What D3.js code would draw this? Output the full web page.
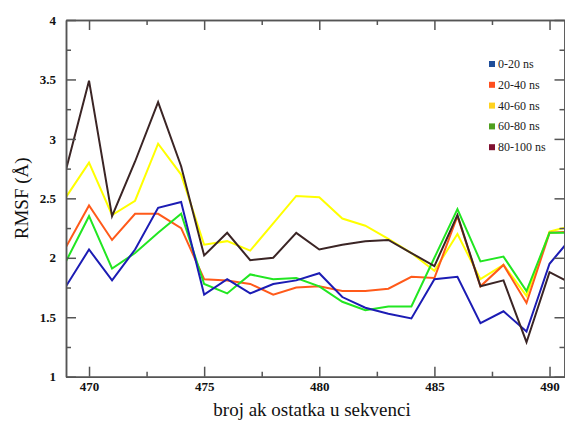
<!DOCTYPE html>
<html>
<head>
<meta charset="utf-8">
<script src="https://cdn.jsdelivr.net/npm/d3@7"></script>
<style>
    body { margin: 0; background: #fff; }
    svg { display: block; }
    .axis path, .axis line { stroke: #555; stroke-width: 1.5; }
</style>
</head>
<body>
<svg id="chart" width="565" height="421"></svg>
<script>
// 残基编号
const residues = d3.range(469, 492);

// 每个时间段的 RMSF 值
const rmsf0_20 = [1.76, 2.07, 1.81, 2.07, 2.42, 2.47, 1.69, 1.82, 1.70, 1.78, 1.81, 1.87, 1.67, 1.58, 1.53, 1.49, 1.82, 1.84, 1.45, 1.55, 1.38, 1.95, 2.18];
const rmsf20_40 = [2.09, 2.44, 2.15, 2.37, 2.37, 2.25, 1.82, 1.81, 1.78, 1.69, 1.75, 1.76, 1.72, 1.72, 1.74, 1.84, 1.83, 2.35, 1.76, 1.94, 1.62, 2.21, 2.22];
const rmsf40_60 = [2.51, 2.80, 2.36, 2.48, 2.96, 2.70, 2.11, 2.14, 2.06, 2.29, 2.52, 2.51, 2.33, 2.27, 2.16, 2.04, 1.89, 2.20, 1.82, 1.94, 1.68, 2.22, 2.27];
const rmsf60_80 = [1.97, 2.35, 1.91, 2.04, 2.21, 2.37, 1.78, 1.70, 1.86, 1.82, 1.83, 1.76, 1.63, 1.56, 1.59, 1.59, 2.00, 2.41, 1.97, 2.01, 1.72, 2.21, 2.21];
const rmsf80_100 = [2.74, 3.49, 2.35, 2.81, 3.31, 2.77, 2.02, 2.21, 1.98, 2.00, 2.21, 2.07, 2.11, 2.14, 2.15, 2.04, 1.93, 2.36, 1.76, 1.81, 1.29, 1.88, 1.78];

// 图例与线条
const seriesNames = ["0-20 ns", "20-40 ns", "40-60 ns", "60-80 ns", "80-100 ns"];
const legendColors = ["#1f4e9a", "#ff4f1f", "#ffd21f", "#4f9f1f", "#7f1030"];
const lineColors = ["#1c1cb4", "#ff5a1a", "#ffff00", "#22e622", "#3b2525"];
const seriesValues = [rmsf0_20, rmsf20_40, rmsf40_60, rmsf60_80, rmsf80_100];

const xTicks = [470, 475, 480, 485, 490];
const yTicks = [1, 1.5, 2, 2.5, 3, 3.5, 4];

const serif = "'Liberation Serif', 'Times New Roman', Times, serif";
const plotLeft = 66, plotRight = 564.5, plotTop = 20, plotBottom = 376.7;

const svg = d3.select("#chart");

const x = d3.scaleLinear().domain([469, 490.65]).range([plotLeft, plotRight]);
const y = d3.scaleLinear().domain([1, 4]).range([plotBottom, plotTop]);

// 裁剪区域
svg.append("clipPath").attr("id", "plot-clip")
    .append("rect")
    .attr("x", plotLeft).attr("y", plotTop)
    .attr("width", plotRight - plotLeft).attr("height", plotBottom - plotTop);

const line = d3.line()
    .x((d, i) => x(residues[i]))
    .y(d => y(d));

// 绘制顺序：黄、橙、绿、蓝、深色
const drawOrder = [2, 1, 3, 0, 4];
const plot = svg.append("g").attr("clip-path", "url(#plot-clip)");
drawOrder.forEach(k => {
    plot.append("path")
        .datum(seriesValues[k])
        .attr("fill", "none")
        .attr("stroke", lineColors[k])
        .attr("stroke-width", 2)
        .attr("stroke-linejoin", "miter")
        .attr("d", line);
});

// 坐标轴（刻度朝内）
const xMinor = d3.range(467.5, 492, 2.5).filter(v => v > 469 && v < 490.65 && !xTicks.includes(v));
const yMinor = d3.range(1.25, 4, 0.5);

function addAxis(axisFn, scale, pos, major, minor, pad) {
    const g = svg.append("g").attr("class", "axis").attr("transform", pos);
    g.call(axisFn(scale).tickValues(minor).tickSize(-5).tickSizeOuter(0).tickFormat(""));
    const g2 = svg.append("g").attr("class", "axis").attr("transform", pos);
    g2.call(axisFn(scale).tickValues(major).tickSize(-10).tickSizeOuter(0)
        .tickPadding(pad || 0)
        .tickFormat(pad ? d3.format("") : ""));
    g2.selectAll(".tick text")
        .style("font-family", serif)
        .style("font-weight", "bold")
        .style("font-size", "13px")
        .attr("fill", "#111");
    return g2;
}

addAxis(d3.axisBottom, x, `translate(0,${plotBottom})`, xTicks, xMinor, 5);
addAxis(d3.axisTop, x, `translate(0,${plotTop})`, xTicks, xMinor, 0);
addAxis(d3.axisLeft, y, `translate(${plotLeft},0)`, yTicks, yMinor, 10);
addAxis(d3.axisRight, y, `translate(${plotRight},0)`, yTicks, yMinor, 0);

svg.selectAll(".axis .domain").attr("stroke", "#666").attr("stroke-width", 2);

// 轴标题
svg.append("text")
    .attr("x", 312).attr("y", 416)
    .attr("text-anchor", "middle")
    .style("font-family", serif)
    .style("font-size", "19px")
    .attr("fill", "#111")
    .text("broj ak ostatka u sekvenci");

svg.append("text")
    .attr("transform", `translate(28,${(plotTop + plotBottom) / 2}) rotate(-90)`)
    .attr("text-anchor", "middle")
    .style("font-family", serif)
    .style("font-size", "19px")
    .attr("fill", "#111")
    .text("RMSF (Å)");

// 图例
const legend = svg.append("g").attr("transform", "translate(489,65)");
seriesNames.forEach((name, i) => {
    const row = legend.append("g").attr("transform", `translate(0,${i * 20.8})`);
    row.append("rect")
        .attr("x", 0).attr("y", -4).attr("width", 6).attr("height", 6)
        .attr("fill", legendColors[i]);
    row.append("text")
        .attr("x", 9).attr("y", 3)
        .style("font-family", serif)
        .style("font-size", "12px")
        .attr("fill", "#222")
        .text(name);
});
</script>
</body>
</html>
